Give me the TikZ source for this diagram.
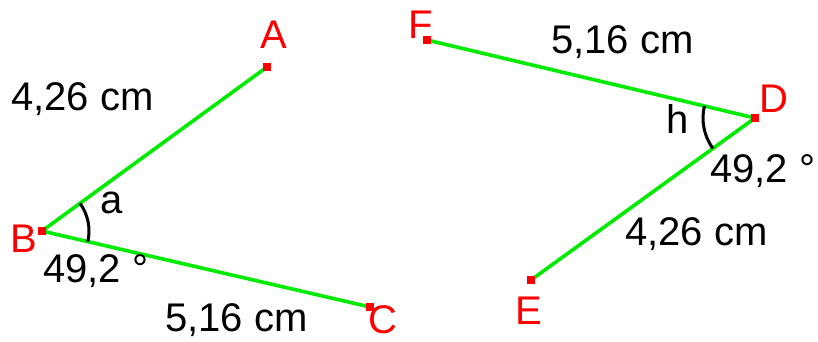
\documentclass[tikz,border=0pt]{standalone}
\usepackage{fontspec}
\setmainfont{Liberation Sans}
\definecolor{seg}{RGB}{0,235,0}
\definecolor{ptred}{RGB}{255,0,0}
\begin{document}
\begin{tikzpicture}[x=1pt,y=-1pt,
  seg/.style={draw=seg,line width=3.6pt},
  ptsq/.style={fill=ptred,minimum size=8pt,inner sep=0pt,outer sep=0pt},
  lbl/.style={text=ptred,font=\fontsize{40}{42}\selectfont,anchor=base west,inner sep=0pt},
  txt/.style={text=black,font=\fontsize{40}{42}\selectfont,anchor=base west,inner sep=0pt},
  angarc/.style={draw=black,line width=3pt}]
\useasboundingbox (0,0) rectangle (818,341);
% points
\coordinate (A) at (267,67);
\coordinate (B) at (42,231);
\coordinate (C) at (370,307);
\coordinate (F) at (427,40);
\coordinate (D) at (755,118);
\coordinate (E) at (531,280);
% segments
\draw[seg] (B) -- (A);
\draw[seg] (B) -- (C);
\draw[seg] (D) -- (F);
\draw[seg] (D) -- (E);
% angle arcs
\draw[angarc] ([shift={(-36.1:47)}]B) arc[start angle=-36.1,end angle=13.0,radius=47];
\draw[angarc] ([shift={(144.1:52)}]D) arc[start angle=144.1,end angle=193.4,radius=52];
% point markers
\node[ptsq] (pA) at (A) {};
\node[ptsq] (pB) at (B) {};
\node[ptsq] (pC) at (C) {};
\node[ptsq] (pF) at (F) {};
\node[ptsq] (pD) at (D) {};
\node[ptsq] (pE) at (E) {};
% point labels
\node[lbl] (lA) at (260,48) {A};
\node[lbl] (lB) at (10,252) {B};
\node[lbl] (lC) at (368,333) {C};
\node[lbl] (lF) at (408,38) {F};
\node[lbl] (lD) at (759,112) {D};
\node[lbl] (lE) at (515,324) {E};
% measures
\node[txt] (mAB) at (11,110) {4,26 cm};
\node[txt] (mBC) at (165,331) {5,16 cm};
\node[txt] (mFD) at (551,53) {5,16 cm};
\node[txt] (mDE) at (625,245) {4,26 cm};
\node[txt] (na) at (100,213) {a};
\node[txt] (nh) at (666,133) {h};
\node[txt] (angB) at (43,282) {49,2 °};
\node[txt] (angD) at (710,182) {49,2 °};
\end{tikzpicture}
\end{document}
